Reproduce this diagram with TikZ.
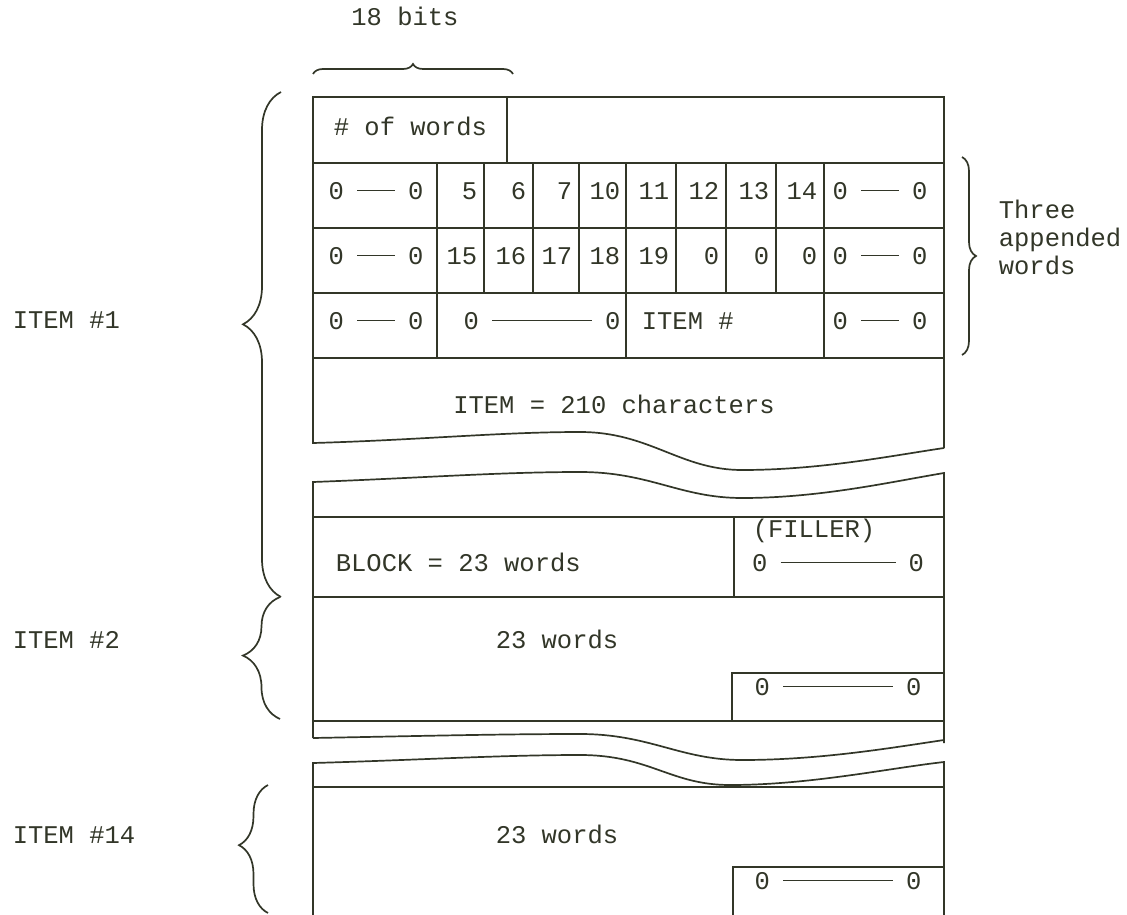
\documentclass[tikz,border=0pt]{standalone}
\usepackage{fontspec}
\setmonofont{Liberation Mono}
\usepackage{tikz}
\usetikzlibrary{decorations.pathreplacing}
\definecolor{ink}{RGB}{50,54,40}
\newcommand{\zline}[1]{0\hspace{13pt}\rule[0.3em]{#1pt}{1.5pt}\hspace{13pt}0}

\begin{document}
\begin{tikzpicture}[
        x=1pt, y=-1pt,
        line width=1.7pt,
        color=ink,
        font=\ttfamily\fontsize{25.5}{28}\selectfont,
        lbl/.style={inner sep=0pt, text height=0.62em, text depth=0pt},
        num/.style={lbl, anchor=east},
        lft/.style={lbl, anchor=west},
        brc/.style={decorate, decoration={brace, amplitude=#1}}
      ]
      \useasboundingbox (0,0) rectangle (1127,915);

      \node[lbl] (bits) at (405,22) {18 bits};
      \draw[brc=10] (313,74) -- (513,74);

      \draw (944,448) -- (944,97) -- (313,97) -- (313,443)
        .. controls (420,440) and (500,432) .. (580,432)
        .. controls (650,432) and (680,470) .. (742,470)
        .. controls (820,470) and (890,456) .. (944,448);
      \draw (313,163) -- (944,163) (313,228) -- (944,228)
        (313,293) -- (944,293) (313,358) -- (944,358);
      \draw (507,97) -- (507,163);
      \draw (437,163) -- (437,358) (484,163) -- (484,293) (533,163) -- (533,293)
        (579,163) -- (579,293) (626,163) -- (626,358) (676,163) -- (676,293)
        (726,163) -- (726,293) (776,163) -- (776,293) (824,163) -- (824,358);

      \node[lft] (nwords) at (333,132) {\# of words};

      \node[lbl] (za1) at (376,196) {\zline{38}};
      \node[num] (n5) at (478,196) {5};
      \node[num] (n6) at (527,196) {6};
      \node[num] (n7) at (573,196) {7};
      \node[num] (n10) at (621,196) {10};
      \node[num] (n11) at (670,196) {11};
      \node[num] (n12) at (720,196) {12};
      \node[num] (n13) at (770,196) {13};
      \node[num] (n14) at (818,196) {14};
      \node[lbl] (zb1) at (880,196) {\zline{38}};

      \node[lbl] (za2) at (376,261) {\zline{38}};
      \node[num] (n15) at (478,261) {15};
      \node[num] (n16) at (527,261) {16};
      \node[num] (n17) at (573,261) {17};
      \node[num] (n18) at (621,261) {18};
      \node[num] (n19) at (670,261) {19};
      \node[num] (o1) at (720,261) {0};
      \node[num] (o2) at (770,261) {0};
      \node[num] (o3) at (818,261) {0};
      \node[lbl] (zb2) at (880,261) {\zline{38}};

      \node[lbl] (za3) at (376,326) {\zline{38}};
      \node[lbl] (zm3) at (542,326) {\zline{100}};
      \node[lft] (itemno) at (641,326) {ITEM \#};
      \node[lbl] (zb3) at (880,326) {\zline{38}};

      \node[lbl] (chars) at (614,410) {ITEM = 210 characters};

      \draw (313,738) -- (313,482)
        .. controls (420,478) and (500,472) .. (580,472)
        .. controls (650,472) and (680,498) .. (742,498)
        .. controls (820,498) and (890,482) .. (944,473) -- (944,743);
      \draw (313,738)
        .. controls (420,736) and (500,734) .. (580,734)
        .. controls (650,734) and (680,760) .. (742,760)
        .. controls (820,760) and (890,748) .. (944,740);
      \draw (313,517) -- (944,517) (313,597) -- (944,597) (313,721) -- (944,721);
      \draw (734,517) -- (734,597);
      \draw (732,721) -- (732,673) -- (944,673);

      \node[lbl] (filler) at (814,534) {(FILLER)};
      \node[lft] (block) at (335,568) {BLOCK = 23 words};
      \node[lbl] (fz) at (838,568) {\zline{115}};
      \node[lbl] (words2) at (557,645) {23 words};
      \node[lbl] (z2) at (838,692) {\zline{110}};

      \draw (313,915) -- (313,763)
        .. controls (420,760) and (500,755) .. (580,755)
        .. controls (650,755) and (670,785) .. (730,785)
        .. controls (810,785) and (890,768) .. (944,762) -- (944,915);
      \draw (313,787) -- (944,787);
      \draw (733,915) -- (733,867) -- (944,867);

      \node[lbl] (words14) at (557,840) {23 words};
      \node[lbl] (z14) at (838,886) {\zline{110}};

      \draw[brc=14] (962,157) -- (962,355);
      \node[anchor=west, align=left, inner sep=0pt] (appended) at (998,237) {Three\\appended\\words};

      \draw[brc=38, decoration={aspect=0.54}] (281,597) -- (281,92);
      \draw[brc=37, decoration={aspect=0.52}] (280,719) -- (280,597);
      \draw[brc=29, decoration={aspect=0.53}] (268,913) -- (268,785);

      \node[lft] (item1) at (12,325) {ITEM \#1};
      \node[lft] (item2) at (12,645) {ITEM \#2};
      \node[lft] (item14) at (12,840) {ITEM \#14};
    \end{tikzpicture}
\end{document}
